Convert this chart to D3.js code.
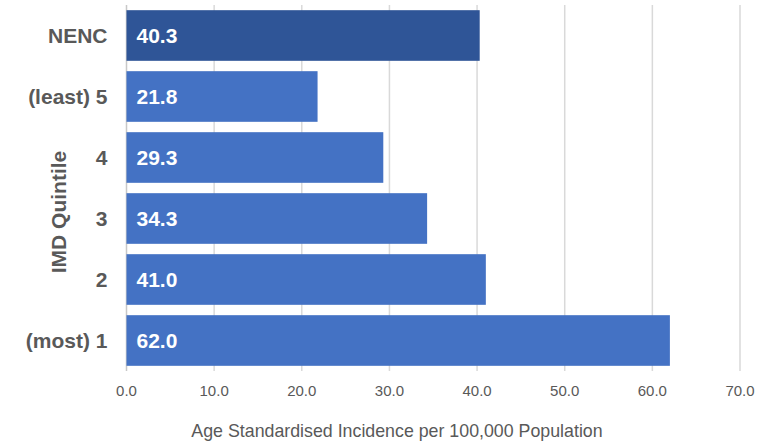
<!DOCTYPE html>
<html>
<head>
<meta charset="utf-8">
<script src="https://cdn.jsdelivr.net/npm/d3@7"></script>
<style>
  body { margin: 0; background: #fff; }
  text { font-family: "Liberation Sans", Arial, sans-serif; }
</style>
</head>
<body>
<svg id="chart"></svg>
<script>
var categories = ["NENC", "(least) 5", "4", "3", "2", "(most) 1"];
var values = [40.3, 21.8, 29.3, 34.3, 41.0, 62.0];
var barColors = ["#2F5597", "#4472C4", "#4472C4", "#4472C4", "#4472C4", "#4472C4"];
var xTicks = [0, 10, 20, 30, 40, 50, 60, 70];

var width = 774, height = 442;
var margin = {top: 5, right: 34, bottom: 71, left: 126.5};

var svg = d3.select("#chart")
  .attr("width", width)
  .attr("height", height);

var x = d3.scaleLinear()
  .domain([0, 70])
  .range([margin.left, width - margin.right]);

var y = d3.scaleBand()
  .domain(categories)
  .range([margin.top, height - margin.bottom])
  .paddingInner(0.17)
  .paddingOuter(0.085);

// gridlines
svg.append("g")
  .selectAll("line")
  .data(xTicks)
  .enter().append("line")
  .attr("x1", function(d) { return x(d); })
  .attr("x2", function(d) { return x(d); })
  .attr("y1", margin.top)
  .attr("y2", height - margin.bottom)
  .attr("stroke", function(d) { return d === 0 ? "#c8c8c8" : "#d9d9d9"; })
  .attr("stroke-width", 1.5);

// bars
svg.append("g")
  .selectAll("rect")
  .data(values)
  .enter().append("rect")
  .attr("x", x(0))
  .attr("y", function(d, i) { return y(categories[i]); })
  .attr("width", function(d) { return x(d) - x(0); })
  .attr("height", y.bandwidth())
  .attr("fill", function(d, i) { return barColors[i]; });

// value labels
svg.append("g")
  .selectAll("text")
  .data(values)
  .enter().append("text")
  .attr("x", x(0) + 10)
  .attr("y", function(d, i) { return y(categories[i]) + y.bandwidth() / 2; })
  .attr("dy", "0.36em")
  .attr("fill", "#fff")
  .style("font-size", "21px")
  .style("font-weight", "bold")
  .text(function(d) { return d.toFixed(1); });

// y category labels
svg.append("g")
  .selectAll("text")
  .data(categories)
  .enter().append("text")
  .attr("x", 107.5)
  .attr("y", function(d) { return y(d) + y.bandwidth() / 2; })
  .attr("dy", "0.36em")
  .attr("text-anchor", "end")
  .attr("fill", "#595959")
  .style("font-size", "21px")
  .style("font-weight", "bold")
  .text(function(d) { return d; });

// x tick labels
svg.append("g")
  .selectAll("text")
  .data(xTicks)
  .enter().append("text")
  .attr("x", function(d) { return x(d); })
  .attr("y", 391)
  .attr("dy", "0.36em")
  .attr("text-anchor", "middle")
  .attr("fill", "#595959")
  .style("font-size", "15px")
  .text(function(d) { return d.toFixed(1); });

// axis titles
svg.append("text")
  .attr("x", 397)
  .attr("y", 431)
  .attr("dy", "0.36em")
  .attr("text-anchor", "middle")
  .attr("fill", "#595959")
  .style("font-size", "17.8px")
  .text("Age Standardised Incidence per 100,000 Population");

svg.append("text")
  .attr("transform", "translate(58,212) rotate(-90)")
  .attr("dy", "0.36em")
  .attr("text-anchor", "middle")
  .attr("fill", "#595959")
  .style("font-size", "21px")
  .style("font-weight", "bold")
  .text("IMD Quintile");
</script>
</body>
</html>
